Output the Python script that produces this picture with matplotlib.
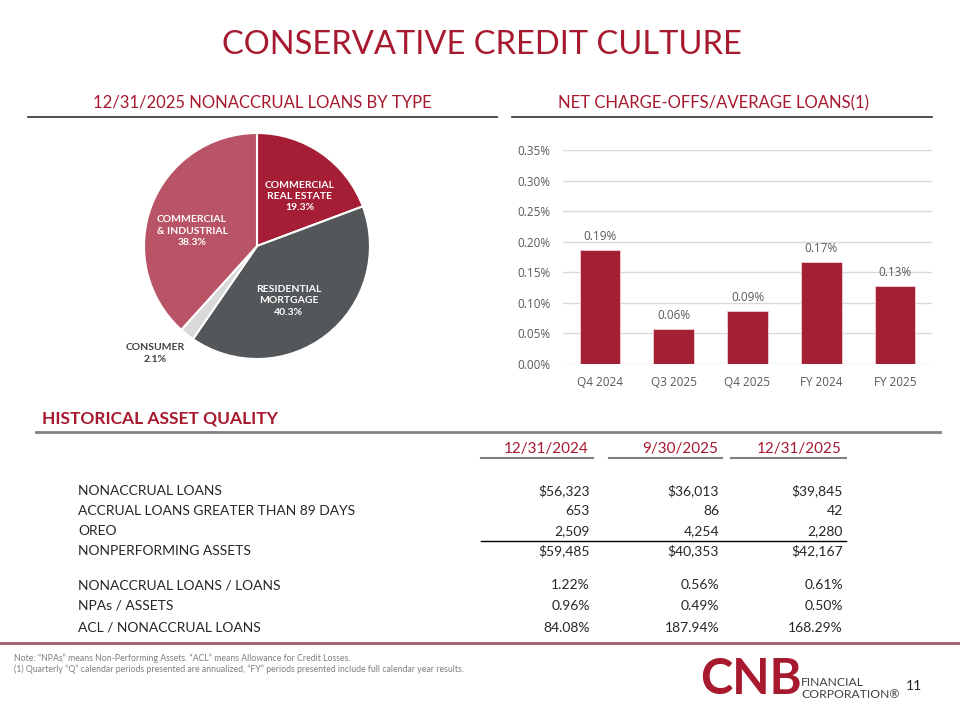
import matplotlib
matplotlib.use('Agg')
import matplotlib.pyplot as plt
import numpy as np

# ---- data ----
pie_labels = ['COMMERCIAL\nREAL ESTATE', 'RESIDENTIAL\nMORTGAGE', 'CONSUMER', 'COMMERCIAL\n& INDUSTRIAL']
pie_values = [19.3, 40.3, 2.1, 38.3]

bar_cats = ['Q4 2024', 'Q3 2025', 'Q4 2025', 'FY 2024', 'FY 2025']
bar_vals = [0.187, 0.057, 0.087, 0.167, 0.128]

col_heads = ['12/31/2024', '9/30/2025', '12/31/2025']
row_names = ['NONACCRUAL LOANS', 'ACCRUAL LOANS GREATER THAN 89 DAYS', 'OREO',
             'NONPERFORMING ASSETS', 'NONACCRUAL LOANS / LOANS', 'NPAs / ASSETS',
             'ACL / NONACCRUAL LOANS']
col_2024 = ['$56,323', '653', '2,509', '$59,485', '1.22%', '0.96%', '84.08%']
col_q3 = ['$36,013', '86', '4,254', '$40,353', '0.56%', '0.49%', '187.94%']
col_2025 = ['$39,845', '42', '2,280', '$42,167', '0.61%', '0.50%', '168.29%']

RED = '#A6192E'
plt.rcParams['font.family'] = ['Lato', 'DejaVu Sans']

W, H = 960, 720
fig = plt.figure(figsize=(9.6, 7.2), dpi=100)


def fx(x):
    return x / W


def fy(y):
    return 1 - y / H


def hline(x0, x1, y, color, lw):
    fig.add_artist(plt.Line2D([fx(x0), fx(x1)], [fy(y), fy(y)], color=color, lw=lw,
                              transform=fig.transFigure))


# title and section heads
fig.text(fx(482), fy(45), 'CONSERVATIVE CREDIT CULTURE', color=RED, fontsize=23.5,
         ha='center', va='center')
fig.text(fx(262), fy(103), '12/31/2025 NONACCRUAL LOANS BY TYPE', color=RED, fontsize=12,
         ha='center', va='center')
fig.text(fx(713), fy(103), 'NET CHARGE-OFFS/AVERAGE LOANS(1)', color=RED, fontsize=12,
         ha='center', va='center')
hline(28, 497, 117, '#404040', 1.3)
hline(512, 932, 117, '#404040', 1.3)

# ---- pie ----
cx, cy, r = 257, 246, 113
ax_pie = fig.add_axes([fx(cx - r), fy(cy + r), 2 * r / W, 2 * r / H])
pie_colors = ['#A51E36', '#54575A', '#D9D9D9', '#B95466']
wedges, _ = ax_pie.pie(pie_values, colors=pie_colors, startangle=90, counterclock=False,
                       wedgeprops=dict(edgecolor='white', linewidth=1.5))
ax_pie.set_xlim(-1, 1)
ax_pie.set_ylim(-1, 1)
ax_pie.set_aspect('auto')
# (radius, angle) for each label
label_pos = [(0.58, 49), (0.56, -60), (1.31, 226.5), (0.59, 167)]
for name, val, (rr, ang) in zip(pie_labels, pie_values, label_pos):
    tx, ty = rr * np.cos(np.radians(ang)), rr * np.sin(np.radians(ang))
    col = '#404040' if name == 'CONSUMER' else 'white'
    ax_pie.text(tx, ty, f'{name}\n{val:.1f}%', ha='center', va='center', color=col,
                fontsize=7.5, fontweight='bold', linespacing=1.35, clip_on=False)

# ---- bars ----
ax_bar = fig.add_axes([fx(563), fy(364), (932 - 563) / W, (364 - 150) / H])
x = np.arange(len(bar_cats))
ax_bar.bar(x, bar_vals, width=0.55, color='#A31F34', edgecolor='#F2D0D5', linewidth=0.6,
           zorder=3)
for xi, v in zip(x, bar_vals):
    ax_bar.annotate(f'{v:.2f}%', (xi, v), xytext=(0, 5), textcoords='offset points',
                    ha='center', va='bottom', fontsize=8.5, color='#595959',
                    family='Open Sans')
ax_bar.set_xlim(-0.5, 4.5)
ax_bar.set_ylim(0, 0.35)
ax_bar.set_yticks(np.arange(0, 0.351, 0.05))
ax_bar.set_yticklabels([f'{t:.2f}%' for t in np.arange(0, 0.351, 0.05)])
ax_bar.set_xticks(x)
ax_bar.set_xticklabels(bar_cats)
ax_bar.yaxis.grid(True, color='#D9D9D9', lw=1, zorder=0)
ax_bar.tick_params(length=0, labelsize=8.5, labelcolor='#595959', pad=9)
for lab in ax_bar.get_xticklabels() + ax_bar.get_yticklabels():
    lab.set_family('Open Sans')
for s in ax_bar.spines.values():
    s.set_visible(False)

# ---- table ----
fig.text(fx(42), fy(418), 'HISTORICAL ASSET QUALITY', color=RED, fontsize=12.5,
         fontweight='bold', va='center')
hline(36, 940, 432, '#808080', 2)

col_spans = [(481, 593), (609, 722), (731, 846)]
for head, (a, b) in zip(col_heads, col_spans):
    fig.text(fx(b - 4), fy(449), head, color=RED, fontsize=11, ha='right', va='center')
    hline(a, b, 458, '#808080', 1.5)

row_y = [491, 511, 531, 551, 585, 606, 628]
for name, yy in zip(row_names, row_y):
    fig.text(fx(78), fy(yy), name, fontsize=10, color='#262626', va='center')
for col, (a, b) in zip([col_2024, col_q3, col_2025], col_spans):
    for val, yy in zip(col, row_y):
        fig.text(fx(b - 3), fy(yy), val, fontsize=10, color='#262626', ha='right',
                 va='center')
hline(481, 846, 541, '#000000', 1)

# ---- footer ----
hline(0, 960, 643, '#9E5C69', 2)
fig.text(fx(14), fy(658), 'Note: \u201cNPAs\u201d means Non-Performing Assets. \u201cACL\u201d means '
         'Allowance for Credit Losses.', fontsize=6.3, color='#7F7F7F', va='center')
fig.text(fx(14), fy(669), '(1) Quarterly \u201cQ\u201d calendar periods presented are annualized, '
         '\u201cFY\u201d periods presented include full calendar year results.', fontsize=6.3,
         color='#7F7F7F', va='center')
fig.text(fx(751), fy(679), 'CNB', fontsize=35, fontweight='bold', color='#A6192E',
         ha='center', va='center')
fig.text(fx(801), fy(682), 'FINANCIAL', fontsize=8.7, color='#404040', va='center')
fig.text(fx(801), fy(695), 'CORPORATION\u00ae', fontsize=8.7, color='#404040', va='center')
fig.text(fx(914), fy(686), '11', fontsize=10, color='#262626', ha='center', va='center')

fig.savefig('out.png', dpi=100)
